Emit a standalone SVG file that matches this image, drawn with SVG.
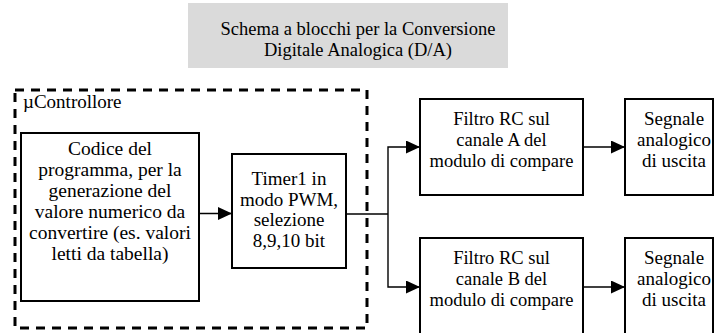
<svg xmlns="http://www.w3.org/2000/svg" width="715" height="333" viewBox="0 0 715 333">
<style>
text{font-family:"Liberation Serif","Times New Roman",serif;font-size:18.5px;fill:#000;text-anchor:middle}
.box{fill:#fff;stroke:#000;stroke-width:2}
.wire{fill:none;stroke:#000;stroke-width:1.4}
</style>
<defs>
<marker id="ah" markerUnits="userSpaceOnUse" markerWidth="14" markerHeight="13" refX="14" refY="6.5" orient="auto">
<path d="M0,0 L14,6.5 L0,13 Z" fill="#000"/>
</marker>
</defs>
<g id="title">
<rect x="188" y="3" width="320" height="65" fill="#dadada"/>
<text x="358" y="35">Schema a blocchi per la Conversione</text>
<text x="358" y="56">Digitale Analogica (D/A)</text>
</g>
<g id="mcu">
<rect x="15" y="90" width="352" height="238" fill="none" stroke="#000" stroke-width="3" stroke-dasharray="9,7"/>
<text x="23" y="108" style="text-anchor:start;font-size:19px">µControllore</text>
</g>
<g id="codice" style="font-size:19.5px">
<rect class="box" x="21" y="133" width="178" height="168"/>
<text x="110" y="155" style="font-size:19.5px">Codice del</text>
<text x="110" y="176" style="font-size:19.5px">programma, per la</text>
<text x="110" y="197" style="font-size:19.5px">generazione del</text>
<text x="110" y="218" style="font-size:19.5px">valore numerico da</text>
<text x="110" y="239" style="font-size:19.5px">convertire (es. valori</text>
<text x="110" y="260" style="font-size:19.5px">letti da tabella)</text>
</g>
<g id="timer">
<rect class="box" x="232" y="154" width="114" height="114"/>
<text x="289" y="185" style="font-size:19px">Timer1 in</text>
<text x="289" y="206" style="font-size:19px">modo PWM,</text>
<text x="289" y="226" style="font-size:19px">selezione</text>
<text x="289" y="247" style="font-size:19px">8,9,10 bit</text>
</g>
<g id="filtroA">
<rect class="box" x="420" y="99" width="163" height="96"/>
<text x="501.5" y="125">Filtro RC sul</text>
<text x="501.5" y="146">canale A del</text>
<text x="501.5" y="167">modulo di compare</text>
</g>
<g id="filtroB">
<rect class="box" x="420" y="238" width="163" height="110"/>
<text x="501.5" y="264">Filtro RC sul</text>
<text x="501.5" y="285">canale B del</text>
<text x="501.5" y="306">modulo di compare</text>
</g>
<g id="segnaleA">
<rect class="box" x="625" y="99" width="88" height="96"/>
<text x="674" y="125" style="font-size:19px">Segnale</text>
<text x="674" y="146" style="font-size:19px">analogico</text>
<text x="674" y="167" style="font-size:19px">di uscita</text>
</g>
<g id="segnaleB">
<rect class="box" x="625" y="238" width="88" height="110"/>
<text x="674" y="264" style="font-size:19px">Segnale</text>
<text x="674" y="285" style="font-size:19px">analogico</text>
<text x="674" y="306" style="font-size:19px">di uscita</text>
</g>
<g id="connectors">
<path class="wire" d="M199,213.5 H232" marker-end="url(#ah)"/>
<path class="wire" d="M346,214 H388"/>
<path class="wire" d="M388,214 V147 H420" marker-end="url(#ah)"/>
<path class="wire" d="M388,214 V287 H420" marker-end="url(#ah)"/>
<path class="wire" d="M583,147 H625" marker-end="url(#ah)"/>
<path class="wire" d="M583,287 H625" marker-end="url(#ah)"/>
</g>
</svg>
